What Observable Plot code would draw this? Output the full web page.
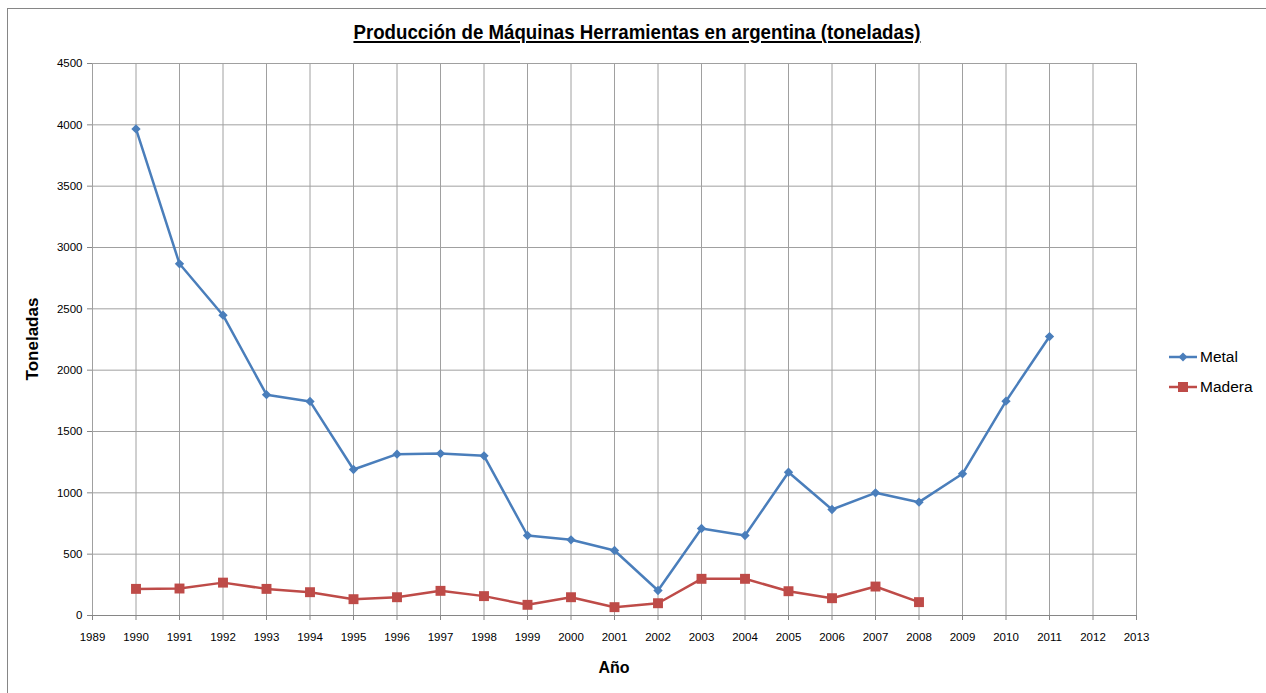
<!DOCTYPE html>
<html>
<head>
<meta charset="utf-8">
<script src="https://cdn.jsdelivr.net/npm/d3@7"></script>
<script src="https://cdn.jsdelivr.net/npm/@observablehq/plot@0.6"></script>
<style>
  html, body { margin: 0; padding: 0; background: #fff; }
  #wrap { position: relative; width: 1266px; height: 693px; overflow: hidden; }
  #frame { position: absolute; left: 7px; top: 8px; width: 1300px; height: 700px; border-left: 1px solid #868686; border-top: 1px solid #868686; }
  #title { position: absolute; left: 637px; top: 32px; transform: translate(-50%, -50%) scaleX(0.89); font-family: "Liberation Sans", Arial, sans-serif; font-weight: bold; font-size: 21px; text-decoration: underline; color: #000; white-space: nowrap; }
  #ylab { position: absolute; left: 33px; top: 339px; transform: translate(-50%, -50%) rotate(-90deg); font-family: "Liberation Sans", Arial, sans-serif; font-weight: bold; font-size: 17px; white-space: nowrap; }
  #xlab { position: absolute; left: 614px; top: 668px; transform: translate(-50%, -50%); font-family: "Liberation Sans", Arial, sans-serif; font-weight: bold; font-size: 16px; }
  .leg { position: absolute; left: 1169px; font-family: "Liberation Sans", Arial, sans-serif; font-size: 15.5px; display: flex; align-items: center; }
  .leg svg { margin-right: 3px; }
  #plot { position: absolute; left: 0; top: 0; }
</style>
</head>
<body>
<div id="wrap">
  <div id="plot"></div>
  <div id="frame"></div>
  <div id="title">Producción de Máquinas Herramientas en argentina (toneladas)</div>
  <div id="ylab">Toneladas</div>
  <div id="xlab">Año</div>
  <div class="leg" style="top:348px"><svg width="28" height="18"><line x1="0" y1="9" x2="28" y2="9" stroke="#4a7ebb" stroke-width="2.5"/><path d="M14,4.5 L18.5,9 L14,13.5 L9.5,9 Z" fill="#4a7ebb"/></svg>Metal</div>
  <div class="leg" style="top:378px"><svg width="28" height="18"><line x1="0" y1="9" x2="28" y2="9" stroke="#be4b48" stroke-width="2.5"/><rect x="9" y="4" width="10" height="10" fill="#be4b48"/></svg>Madera</div>
</div>
<script>
const metalYears = [1990,1991,1992,1993,1994,1995,1996,1997,1998,1999,2000,2001,2002,2003,2004,2005,2006,2007,2008,2009,2010,2011];
const metalValues = [3967,2867,2448,1800,1745,1190,1315,1320,1302,652,617,530,204,709,652,1168,864,1000,924,1155,1747,2274];
const maderaYears = [1990,1991,1992,1993,1994,1995,1996,1997,1998,1999,2000,2001,2002,2003,2004,2005,2006,2007,2008];
const maderaValues = [217,220,268,217,190,133,149,201,158,87,149,68,100,299,299,198,141,236,109];
const xTicks = d3.range(1989, 2014);
const yTicks = d3.range(0, 4501, 500);

const metal = metalYears.map((y, i) => ({year: y, value: metalValues[i]}));
const madera = maderaYears.map((y, i) => ({year: y, value: maderaValues[i]}));

const chart = Plot.plot({
  width: 1266,
  height: 693,
  marginLeft: 92,
  marginRight: 130,
  marginTop: 63,
  marginBottom: 78,
  style: { fontFamily: "'Liberation Sans', Arial, sans-serif", fontSize: "11.5px", color: "#000", background: "transparent" },
  x: { domain: [1989, 2013], ticks: xTicks, tickFormat: d3.format("d") },
  y: { domain: [0, 4500], ticks: yTicks, tickFormat: d3.format("d") },
  marks: [
    Plot.gridX(xTicks, { stroke: "#a0a0a0", strokeOpacity: 1, strokeWidth: 1 }),
    Plot.gridY(yTicks, { stroke: "#a0a0a0", strokeOpacity: 1, strokeWidth: 1 }),
    Plot.ruleY([0], { stroke: "#868686" }),
    Plot.axisX({ ticks: xTicks, tickFormat: d3.format("d"), tickSize: 5, tickPadding: 12, label: null, stroke: "#868686" }),
    Plot.axisY({ ticks: yTicks, tickFormat: d3.format("d"), tickSize: 5, tickPadding: 5, label: null, stroke: "#868686" }),
    Plot.line(metal, { x: "year", y: "value", stroke: "#4a7ebb", strokeWidth: 2.5 }),
    Plot.line(madera, { x: "year", y: "value", stroke: "#be4b48", strokeWidth: 2.5 }),
    Plot.dot(metal, { x: "year", y: "value", symbol: "diamond2", r: 4.2, fill: "#4a7ebb", stroke: "none" }),
    Plot.dot(madera, { x: "year", y: "value", symbol: "square", r: 5.6, fill: "#be4b48", stroke: "none" })
  ]
});
document.getElementById("plot").appendChild(chart);
</script>
</body>
</html>
